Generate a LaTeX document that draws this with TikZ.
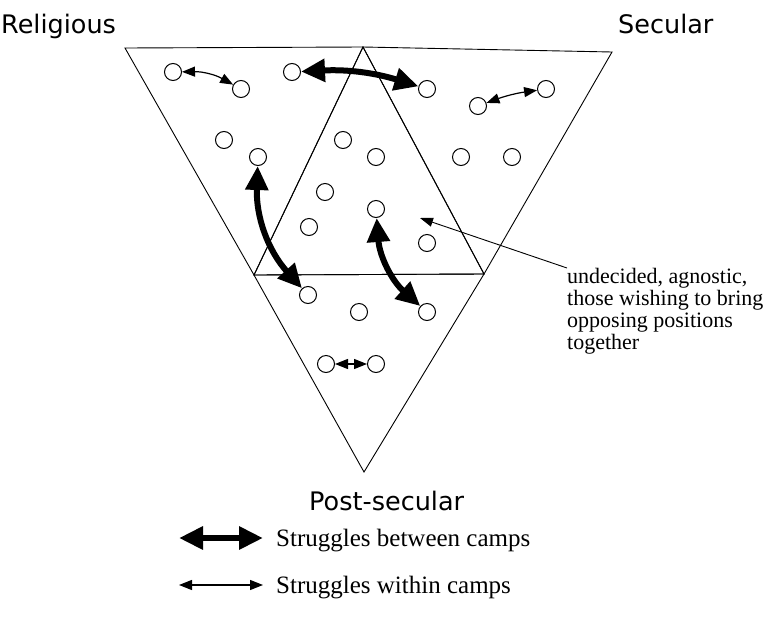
\documentclass[tikz,border=0pt]{standalone}
\usepackage{fontspec}
\setmainfont{Liberation Serif}
\newfontfamily\titlefont{DejaVu Sans}
\usetikzlibrary{arrows.meta}
\begin{document}
\begin{tikzpicture}[x=1pt,y=-1pt,
  camp/.style={circle,draw,line width=1pt,minimum size=17pt,inner sep=0pt,fill=white},
  tri/.style={draw,line width=0.9pt,line join=miter},
  between/.style={line width=6pt,{Triangle[length=24pt,width=22pt]}-{Triangle[length=24pt,width=22pt]}},
  within/.style={line width=1.2pt,{Triangle[length=13pt,width=10pt]}-{Triangle[length=13pt,width=10pt]}},
  title/.style={font=\titlefont\fontsize{25.5}{30}\selectfont,anchor=base west,inner sep=0pt},
  legtext/.style={font=\fontsize{25}{28}\selectfont,anchor=base west,inner sep=0pt},
  note/.style={font=\fontsize{22}{22}\selectfont,anchor=north west,align=left,inner sep=0pt}
]
\useasboundingbox (0,0) rectangle (775,632);
% triangle corners
\coordinate (A) at (125,48);
\coordinate (B) at (612,52);
\coordinate (C) at (364,472);
\coordinate (Mab) at (363,47);
\coordinate (Mac) at (254,275);
\coordinate (Mbc) at (484,274);
\draw[tri] (A) -- (Mab) -- (Mac) -- cycle;
\draw[tri] (Mab) -- (B) -- (Mbc) -- cycle;
\draw[tri] (Mac) -- (Mbc) -- (C) -- cycle;
\draw[tri] (Mab) -- (Mac) -- (Mbc) -- cycle;
% titles
\node[title] (rel) at (1,33) {Religious};
\node[title] (sec) at (618,33) {Secular};
\node[title] (post) at (309,510) {Post-secular};
% circles
\node[camp] (c1) at (173,72) {};
\node[camp] (c2) at (241,89) {};
\node[camp] (c3) at (292,72) {};
\node[camp] (c4) at (224,140) {};
\node[camp] (c5) at (258,157) {};
\node[camp] (c6) at (343,140) {};
\node[camp] (c7) at (376,157) {};
\node[camp] (c8) at (325,192) {};
\node[camp] (c9) at (376,209) {};
\node[camp] (c10) at (309,227) {};
\node[camp] (c11) at (427,89) {};
\node[camp] (c12) at (478,106) {};
\node[camp] (c13) at (546,89) {};
\node[camp] (c14) at (461,157) {};
\node[camp] (c15) at (512,157) {};
\node[camp] (c16) at (427,243) {};
\node[camp] (c17) at (308,295) {};
\node[camp] (c18) at (359,312) {};
\node[camp] (c19) at (427,312) {};
\node[camp] (c20) at (326,364) {};
\node[camp] (c21) at (376,364) {};
% struggles between camps
\draw[between] (c3) to[bend left=10] (c11);
\draw[between] (c5) to[bend right=22] (c17);
\draw[between] (c9) to[bend right=22] (c19);
% struggles within camps
\draw[within] (c1) to[bend left=15] (c2);
\draw[within] (c12) to[bend left=6] (c13);
\draw[within] (c20) -- (c21);
% annotation
\node[note] (lab) at (567,268) {undecided, agnostic,\\those wishing to bring\\opposing positions\\together};
\coordinate (tip) at (420,218);
\draw[line width=0.9pt,-{Triangle[length=13pt,width=9pt]}] (lab.north west) -- (tip);
% legend
\coordinate (l1a) at (179,538);
\coordinate (l1b) at (263,538);
\coordinate (l2a) at (179,585);
\coordinate (l2b) at (263,585);
\draw[between] (l1a) -- (l1b);
\draw[within] (l2a) -- (l2b);
\node[legtext] (t1) at (276,546) {Struggles between camps};
\node[legtext] (t2) at (276,593) {Struggles within camps};
\end{tikzpicture}
\end{document}
